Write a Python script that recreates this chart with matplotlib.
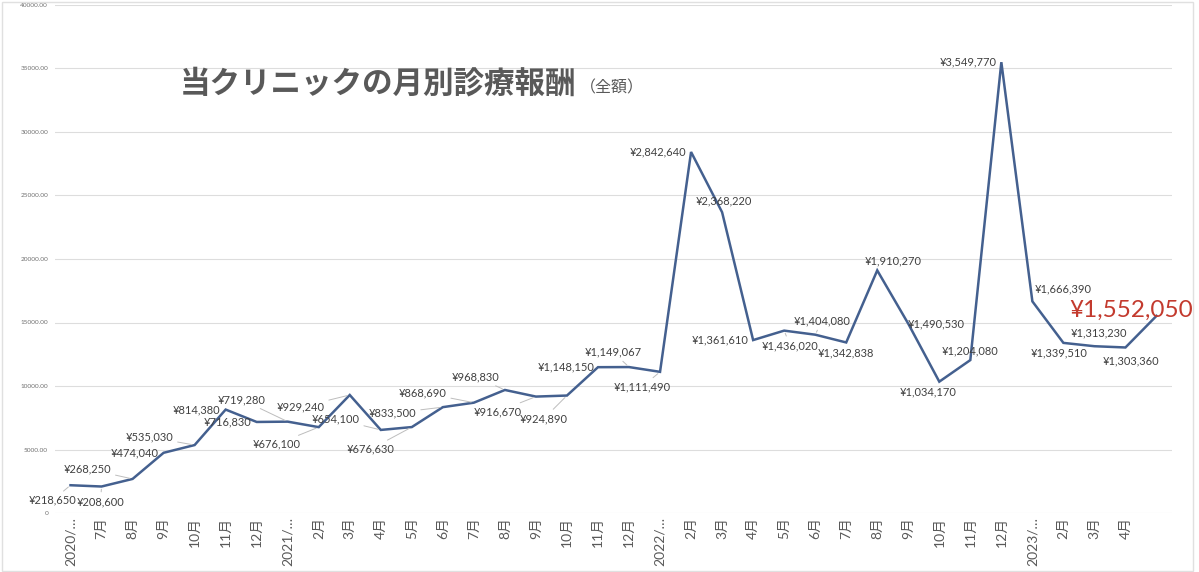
import matplotlib
matplotlib.use("Agg")
import matplotlib.pyplot as plt
from matplotlib.patches import Rectangle

# ---- data ----
categories = ["2020/…", "7月", "8月", "9月", "10月", "11月", "12月",
              "2021/…", "2月", "3月", "4月", "5月", "6月", "7月", "8月", "9月", "10月", "11月", "12月",
              "2022/…", "2月", "3月", "4月", "5月", "6月", "7月", "8月", "9月", "10月", "11月", "12月",
              "2023/…", "2月", "3月", "4月", ""]
revenue_yen = [218650, 208600, 268250, 474040, 535030, 814380, 716830,
               719280, 676100, 929240, 654100, 676630, 833500, 868690, 968830, 916670, 924890, 1148150, 1149067,
               1111490, 2842640, 2368220, 1361610, 1436020, 1404080, 1342838, 1910270, 1490530, 1034170, 1204080, 3549770,
               1666390, 1339510, 1313230, 1303360, 1552050]
y_ticks = [0, 5000, 10000, 15000, 20000, 25000, 30000, 35000, 40000]
y_tick_labels = ["0", "5000.00", "10000.00", "15000.00", "20000.00", "25000.00", "30000.00", "35000.00", "40000.00"]
title_main = "当クリニックの月別診療報酬"
title_sub = "（全額）"

# label offsets (pixels, x right / y up) and whether a leader line is drawn
label_offsets = [(-18, -15), (-1, -15), (-45, 10), (-29, 0), (-45, 8), (-29, 0), (-29, 0),
                 (-46, 22), (-42, -17), (-49, -12), (-45, 11), (-41, -22), (-50, -6), (-51, 10), (-29, 13),
                 (-38, -15), (-23, -23), (-32, 0), (-16, 15),
                 (-18, -15), (-33, 0), (2, 11), (-33, 0), (6, -15), (7, 14), (0, -10), (16, 9),
                 (28, 0), (-11, -10), (0, 9), (-33, 0),
                 (31, 12), (-4, -10), (5, 13), (6, -13), (-25, 6)]
leaders = [1, 1, 1, 0, 1, 0, 0,
           1, 1, 1, 1, 1, 1, 1, 1, 1, 1, 0, 1,
           1, 0, 0, 0, 1, 1, 0, 0, 0, 0, 0, 0,
           0, 0, 0, 0, 0]

W, H = 1199, 572
fig = plt.figure(figsize=(W / 100, H / 100), dpi=100)
fig.patch.set_facecolor("white")
ax = fig.add_axes([55 / W, (H - 513) / H, (1172 - 55) / W, (513 - 5) / H])

x = list(range(len(categories)))
plotted = [v / 100 for v in revenue_yen]
ax.plot(x, plotted, color="#44608F", lw=1.8, zorder=3, solid_joinstyle="miter")

ax.set_xlim(-0.5, len(categories) - 0.5)
ax.set_ylim(0, 40000)
ax.set_yticks(y_ticks)
ax.set_yticklabels(y_tick_labels, fontsize=4.6, color="#6F6F6F", family="Lato")
ax.set_xticks(x)
ax.set_xticklabels(categories, rotation=90, fontsize=10, color="#595959",
                   family=["Lato", "Noto Sans CJK JP"])
ax.tick_params(axis="both", length=0)
ax.tick_params(axis="y", pad=5)
ax.tick_params(axis="x", pad=3)
ax.grid(axis="y", color="#DDDDDD", lw=0.8, zorder=0)
for s in ax.spines.values():
    s.set_visible(False)

for i, (v, (dx, dy), ld) in enumerate(zip(revenue_yen, label_offsets, leaders)):
    last = i == len(revenue_yen) - 1
    kw = {}
    if ld:
        kw["arrowprops"] = dict(arrowstyle="-", color="#BDBDBD", lw=0.7, shrinkA=1, shrinkB=2)
    ax.annotate(f"¥{v:,}", xy=(i, v / 100), xytext=(dx, dy), textcoords="offset pixels",
                ha="center", va="center",
                fontsize=17.5 if last else 8,
                color="#C33A2E" if last else "#404040",
                family="Lato", zorder=4, **kw)

fig.text(180 / W, 1 - 84 / H, title_main, fontsize=22, fontweight="bold", color="#595959",
         family="Noto Sans CJK JP", ha="left", va="center")
fig.text(580 / W, 1 - 88 / H, title_sub, fontsize=11.5, color="#595959",
         family="Noto Sans CJK JP", ha="left", va="center")

fig.patches.append(Rectangle((2 / W, 1 / H), (W - 8) / W, (H - 3) / H, transform=fig.transFigure,
                             fill=False, edgecolor="#E0E0E0", lw=1))

fig.savefig("out.png", dpi=100)
